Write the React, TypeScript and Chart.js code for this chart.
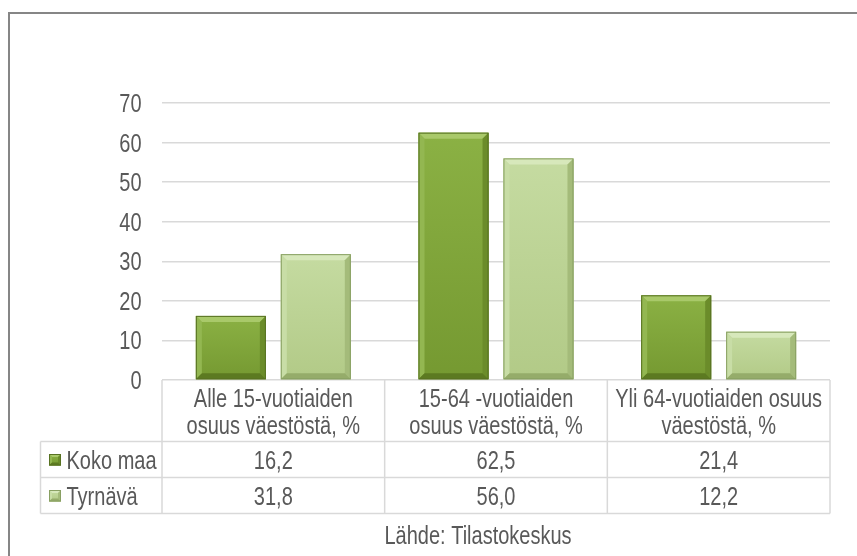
import React, { useEffect, useRef } from "react";
import { Chart, registerables } from "chart.js";

Chart.register(...registerables);

// ---------- data ----------
const categories: string[][] = [
  ["Alle 15-vuotiaiden", "osuus väestöstä, %"],
  ["15-64 -vuotiaiden", "osuus väestöstä, %"],
  ["Yli 64-vuotiaiden osuus", "väestöstä, %"],
];
const seriesNames = ["Koko maa", "Tyrnävä"];
const kokoMaa = [16.2, 62.5, 21.4];
const tyrnava = [31.8, 56.0, 12.2];
const yMin = 0;
const yMax = 70;
const yStep = 10;
const sourceText = "Lähde: Tilastokeskus";

// ---------- styles ----------
const FONT = "'Liberation Sans', Arial, sans-serif";
const FONT_SIZE = 25;
const STRETCH_X = 0.8; // the reference text is condensed
const TEXT = "#595959";
const GRID = "#d9d9d9";

type Pal = {
  face: string; faceTop: string; faceBottom: string;
  top: string; left: string; right: string; bottom: string; edge: string;
};
const palettes: Pal[] = [
  { face: "#82a73b", faceTop: "#8bb144", faceBottom: "#759931", top: "#a9c96a", left: "#93b751", right: "#6b8c2a", bottom: "#5c7a21", edge: "#587222" },
  { face: "#bdd596", faceTop: "#c5dba1", faceBottom: "#b2ca87", top: "#d7e8bb", left: "#c8dda6", right: "#a4bb7a", bottom: "#95ac6a", edge: "#89a063" },
];

function fmt(v: number) {
  return v.toFixed(1).replace(".", ",");
}

function drawText(ctx: CanvasRenderingContext2D, s: string, x: number, baseline: number, align: CanvasTextAlign) {
  ctx.save();
  ctx.translate(x, baseline);
  ctx.scale(STRETCH_X, 1);
  ctx.font = `${FONT_SIZE}px ${FONT}`;
  ctx.fillStyle = TEXT;
  ctx.textAlign = align;
  ctx.textBaseline = "alphabetic";
  ctx.fillText(s, 0, 0);
  ctx.restore();
}

function bevelRect(ctx: CanvasRenderingContext2D, l: number, t: number, r: number, b: number, p: Pal, bev: number) {
  const w = r - l, h = b - t;
  if (w <= 0 || h <= 0) return;
  const bv = Math.min(bev, w / 2, h / 2);
  ctx.save();
  const g = ctx.createLinearGradient(0, t, 0, b);
  g.addColorStop(0, p.faceTop);
  g.addColorStop(1, p.faceBottom);
  ctx.fillStyle = g;
  ctx.fillRect(l, t, w, h);
  const poly = (pts: number[][], c: string) => {
    ctx.beginPath();
    ctx.moveTo(pts[0][0], pts[0][1]);
    for (let i = 1; i < pts.length; i++) ctx.lineTo(pts[i][0], pts[i][1]);
    ctx.closePath();
    ctx.fillStyle = c;
    ctx.fill();
  };
  poly([[l, t], [r, t], [r - bv, t + bv], [l + bv, t + bv]], p.top);
  poly([[l, t], [l + bv, t + bv], [l + bv, b - bv], [l, b]], p.left);
  poly([[r, t], [r, b], [r - bv, b - bv], [r - bv, t + bv]], p.right);
  poly([[l, b], [l + bv, b - bv], [r - bv, b - bv], [r, b]], p.bottom);
  ctx.strokeStyle = p.edge;
  ctx.lineWidth = 1;
  ctx.strokeRect(l + 0.5, t + 0.5, w - 1, h - 1);
  ctx.restore();
}

const excelPlugin = {
  id: "excelLook",
  beforeDatasetsDraw(chart: any) {
    const ctx = chart.ctx;
    ctx.save();
    ctx.shadowColor = "rgba(0,0,0,0.35)";
    ctx.shadowBlur = 5;
    ctx.shadowOffsetX = 2;
    ctx.shadowOffsetY = 1;
  },
  afterDatasetsDraw(chart: any) {
    const ctx = chart.ctx;
    ctx.restore();
    chart.data.datasets.forEach((ds: any, di: number) => {
      const meta = chart.getDatasetMeta(di);
      meta.data.forEach((el: any) => {
        const { x, y, base, width } = el.getProps(["x", "y", "base", "width"], true);
        bevelRect(ctx, x - width / 2, Math.min(y, base), x + width / 2, Math.max(y, base), palettes[di], 6);
      });
    });
  },
  afterDraw(chart: any) {
    const ctx: CanvasRenderingContext2D = chart.ctx;
    const ca = chart.chartArea;
    const xs = chart.scales.x;
    const ys = chart.scales.y;
    const n = categories.length;
    const cellW = (ca.right - ca.left) / n;
    const headerBottom = ca.bottom + 61.5;
    const rowH = 36;
    const legendLeft = 40.5;

    // y tick labels (condensed text)
    ys.ticks.forEach((t: any) => {
      drawText(ctx, String(t.value), ca.left - 20.5, ys.getPixelForValue(t.value) + 9, "right");
    });

    // category labels
    categories.forEach((lines, i) => {
      const cx = xs.getPixelForTick(i);
      lines.forEach((ln, k) => drawText(ctx, ln, cx, ca.bottom + 27 + k * 27, "center"));
    });

    ctx.save();
    ctx.strokeStyle = GRID;
    ctx.lineWidth = 1.5;
    for (let r = 0; r <= seriesNames.length; r++) {
      const yy = headerBottom + r * rowH;
      ctx.beginPath();
      ctx.moveTo(legendLeft, yy);
      ctx.lineTo(ca.right, yy);
      ctx.stroke();
    }
    const tableBottom = headerBottom + seriesNames.length * rowH;
    ctx.beginPath();
    ctx.moveTo(legendLeft, headerBottom);
    ctx.lineTo(legendLeft, tableBottom);
    ctx.stroke();
    for (let i = 0; i <= n; i++) {
      const xx = ca.left + i * cellW;
      ctx.beginPath();
      ctx.moveTo(xx, ca.bottom);
      ctx.lineTo(xx, tableBottom);
      ctx.stroke();
    }
    ctx.restore();

    const values = [kokoMaa, tyrnava];
    seriesNames.forEach((name, r) => {
      const cy = headerBottom + r * rowH + rowH / 2;
      bevelRect(ctx, 49, cy - 5.5, 61, cy + 6, palettes[r], 3);
      drawText(ctx, name, 66.5, cy + 9, "left");
      values[r].forEach((v, i) => {
        drawText(ctx, fmt(v), xs.getPixelForTick(i), cy + 9, "center");
      });
    });

    drawText(ctx, sourceText, 478, 544, "center");

    ctx.save();
    ctx.strokeStyle = "#868686";
    ctx.lineWidth = 2;
    ctx.strokeRect(9, 13, 1200, 1200);
    ctx.restore();
  },
};

export default function App() {
  const ref = useRef<HTMLCanvasElement>(null);
  useEffect(() => {
    const chart = new Chart(ref.current as HTMLCanvasElement, {
      type: "bar",
      data: {
        labels: categories,
        datasets: [
          { label: seriesNames[0], data: kokoMaa, backgroundColor: palettes[0].face, borderColor: palettes[0].edge, borderWidth: 1 },
          { label: seriesNames[1], data: tyrnava, backgroundColor: palettes[1].face, borderColor: palettes[1].edge, borderWidth: 1 },
        ],
      },
      options: {
        animation: false,
        responsive: false,
        devicePixelRatio: 1,
        layout: { padding: { left: 0, right: 27, top: 103, bottom: 0 } },
        datasets: { bar: { categoryPercentage: 0.763, barPercentage: 0.824 } },
        plugins: { legend: { display: false }, tooltip: { enabled: false } },
        scales: {
          x: {
            grid: { display: false },
            border: { display: false },
            ticks: { display: false, autoSkip: false, maxRotation: 0 },
            afterFit: (s: any) => { s.height = 176; },
          },
          y: {
            min: yMin,
            max: yMax,
            grid: { color: GRID, lineWidth: 1.5, drawTicks: false },
            border: { display: false },
            ticks: { display: false, stepSize: yStep },
            afterFit: (s: any) => { s.width = 162; },
          },
        },
      },
      plugins: [excelPlugin],
    } as any);
    return () => chart.destroy();
  }, []);
  return (
    <div style={{ position: "fixed", left: 0, top: 0, width: 857, height: 556, background: "#fff" }}>
      <canvas ref={ref} width={857} height={556} style={{ display: "block", width: 857, height: 556 }} />
    </div>
  );
}
